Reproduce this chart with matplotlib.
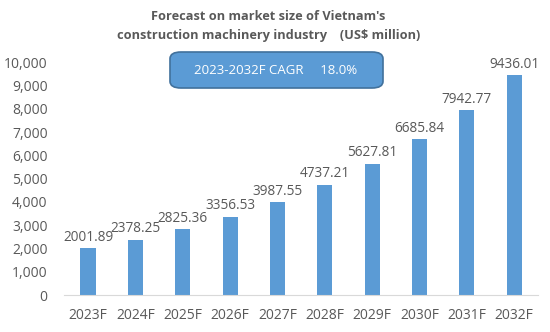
import matplotlib.pyplot as plt
from matplotlib.patches import FancyBboxPatch

years = ["2023F", "2024F", "2025F", "2026F", "2027F",
         "2028F", "2029F", "2030F", "2031F", "2032F"]
market_size = [2001.89, 2378.25, 2825.36, 3356.53, 3987.55,
               4737.21, 5627.81, 6685.84, 7942.77, 9436.01]
yticks = [0, 1000, 2000, 3000, 4000, 5000, 6000, 7000, 8000, 9000, 10000]
title = "Forecast on market size of Vietnam's\nconstruction machinery industry\u3000(US$ million)"
cagr_text = "2023-2032F CAGR\u3000 18.0%"

plt.rcParams['font.family'] = ['Open Sans', 'Noto Sans CJK SC', 'DejaVu Sans']
gray = "#595959"
blue = "#5B9BD5"

fig = plt.figure(figsize=(5.5, 3.32), dpi=100)
ax = fig.add_axes([0.117, 0.111, 0.861, 0.702])

x = range(len(years))
ax.bar(x, market_size, width=0.32, color=blue)
for i, v in zip(x, market_size):
    ax.text(i, v + 150, f"{v:.2f}", ha="center", va="bottom",
            fontsize=9.8, color=gray)

ax.set_xlim(-0.5, len(years) - 0.5)
ax.set_ylim(0, 10000)
ax.set_yticks(yticks)
ax.set_yticklabels([f"{t:,}" for t in yticks])
ax.set_xticks(list(x))
ax.set_xticklabels(years)
ax.tick_params(length=0, labelsize=10, labelcolor=gray)
ax.tick_params(axis="y", pad=12)
ax.tick_params(axis="x", pad=9)
for side in ["top", "right", "left"]:
    ax.spines[side].set_visible(False)
ax.spines["bottom"].set_color("#D9D9D9")

fig.text(0.488, 0.922, title, ha="center", va="center", fontsize=9.2,
         fontweight="bold", color=gray, linespacing=1.55)

box = FancyBboxPatch((170 / 550, 1 - 88 / 332), 213 / 550, 36 / 332,
                     boxstyle="round,pad=0,rounding_size=0.02",
                     transform=fig.transFigure, facecolor=blue,
                     edgecolor="#41719C", linewidth=1.2)
fig.patches.append(box)
fig.text(276 / 550, 1 - 70 / 332, cagr_text, ha="center", va="center",
         fontsize=9.5, color="white")

fig.savefig("out.png", dpi=100)
